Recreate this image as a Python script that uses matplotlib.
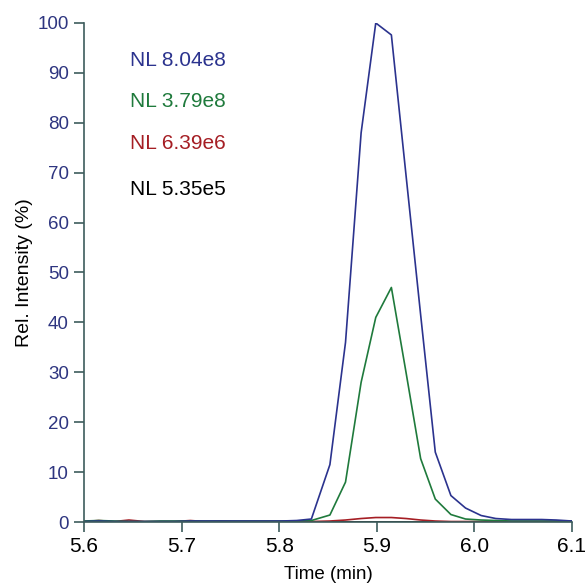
import matplotlib
matplotlib.use('Agg')
import matplotlib.pyplot as plt

plt.rcParams['font.family'] = ['Liberation Sans', 'DejaVu Sans']

# retention time (min)
time = [5.600, 5.615, 5.631, 5.646, 5.662, 5.678, 5.693, 5.709, 5.724, 5.740,
        5.756, 5.771, 5.787, 5.802, 5.818, 5.833, 5.852, 5.868, 5.884, 5.899,
        5.915, 5.930, 5.945, 5.960, 5.976, 5.991, 6.007, 6.022, 6.038, 6.053,
        6.069, 6.084, 6.100]

# relative intensity (%) of each trace
blue = [0.1, 0.2, 0.1, 0.1, 0.1, 0.1, 0.1, 0.2, 0.2, 0.2,
        0.2, 0.2, 0.2, 0.2, 0.3, 0.6, 11.5, 36.0, 78.0, 100.0,
        97.6, 69.5, 41.5, 14.0, 5.3, 2.8, 1.3, 0.7, 0.5, 0.5,
        0.5, 0.4, 0.2]
green = [0.2, 0.3, 0.2, 0.1, 0.1, 0.2, 0.2, 0.2, 0.2, 0.2,
         0.2, 0.2, 0.2, 0.2, 0.2, 0.3, 1.4, 8.0, 28.0, 41.0,
         47.0, 30.0, 12.7, 4.6, 1.5, 0.6, 0.4, 0.3, 0.2, 0.2,
         0.2, 0.2, 0.2]
red = [0.1, 0.3, 0.1, 0.4, 0.1, 0.1, 0.1, 0.3, 0.1, 0.2,
       0.1, 0.1, 0.1, 0.1, 0.1, 0.1, 0.2, 0.4, 0.7, 0.9,
       0.9, 0.7, 0.4, 0.2, 0.1, 0.1, 0.1, 0.1, 0.1, 0.1,
       0.1, 0.1, 0.1]
black = [0.1] * len(time)

nl_labels = ['NL 8.04e8', 'NL 3.79e8', 'NL 6.39e6', 'NL 5.35e5']
colors = ['#2b338e', '#1f7a3c', '#a51e24', '#000000']
spine_col = '#3d5c5c'

fig = plt.figure(figsize=(5.85, 5.83), dpi=100)
ax = fig.add_axes([0.1436, 0.1046, 0.834, 0.856])

ax.plot(time, black, color=colors[3], lw=1.2)
ax.plot(time, red, color=colors[2], lw=1.2)
ax.plot(time, green, color=colors[1], lw=1.2)
ax.plot(time, blue, color=colors[0], lw=1.2)

ax.set_xlim(5.6, 6.1)
ax.set_ylim(0, 100)
ax.set_xticks([5.6, 5.7, 5.8, 5.9, 6.0, 6.1])
ax.set_yticks(range(0, 101, 10))

for s in ['top', 'right']:
	ax.spines[s].set_visible(False)
for s in ['left', 'bottom']:
	ax.spines[s].set_color(spine_col)
	ax.spines[s].set_linewidth(1.2)
	ax.spines[s].set_clip_on(False)

ax.tick_params(axis='both', direction='out', length=7, width=1.2, color=spine_col)
ax.tick_params(axis='y', labelcolor='#2e3580', labelsize=13.5, pad=4)
ax.tick_params(axis='x', labelcolor='#000000', labelsize=15, pad=4)

ax.set_xlabel('Time (min)', fontsize=13.5, labelpad=7)
ax.set_ylabel('Rel. Intensity (%)', fontsize=14, labelpad=3)

# normalisation levels
y_text = [92.5, 84.2, 75.8, 66.7]
for lab, col, yy in zip(nl_labels, colors, y_text):
	ax.text(5.647, yy, lab, color=col, fontsize=15, va='center', ha='left')

plt.savefig('out.png', dpi=100)
